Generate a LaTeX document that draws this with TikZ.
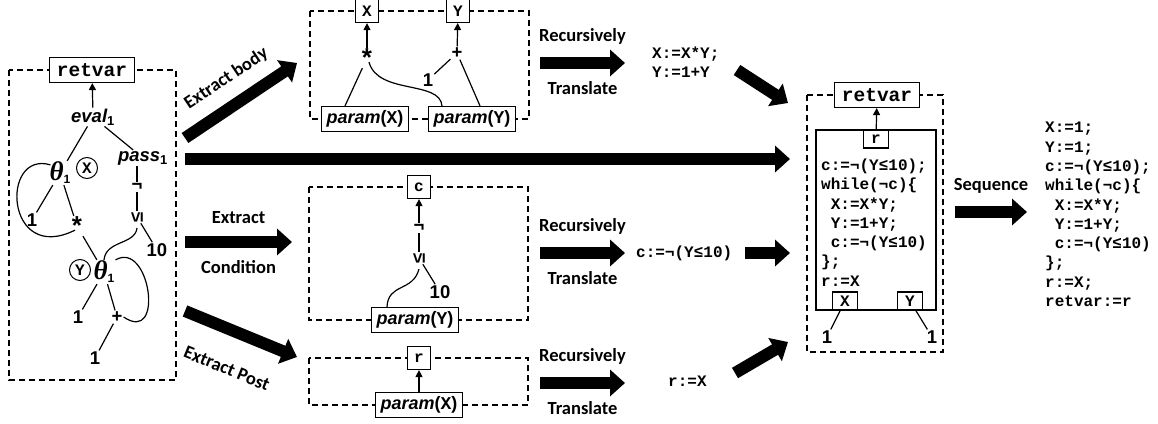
\documentclass[tikz,border=0pt]{standalone}
\usepackage{fontspec}
\setmainfont{Liberation Sans}
\setmonofont{Liberation Mono}
\newfontfamily\calfont{Carlito}
\newfontfamily\grkfont{Liberation Serif}
\usetikzlibrary{arrows.meta}

\newcommand\thetaone{{\grkfont\bfseries\itshape\fontsize{27}{27}\selectfont θ}\raisebox{-3pt}{\fontsize{12}{12}\selectfont\bfseries 1}}

\begin{document}
\begin{tikzpicture}[x=1pt,y=-1pt]
\tikzstyle{lbl}=[font=\fontsize{18.5}{20}\selectfont\bfseries\itshape,inner sep=1pt]
\tikzstyle{num}=[font=\fontsize{18.5}{20}\selectfont\bfseries,inner sep=1pt]
\tikzstyle{star}=[font=\fontsize{26}{26}\selectfont\bfseries,inner sep=1pt]
\tikzstyle{varbox}=[draw,fill=white,line width=1.2pt,font=\fontsize{16}{16}\selectfont\ttfamily\bfseries,minimum width=23pt,minimum height=23pt,inner sep=0pt]
\tikzstyle{retbox}=[varbox,font=\fontsize{19.5}{20}\selectfont\ttfamily\bfseries,minimum width=85pt,minimum height=25pt]
\tikzstyle{parbox}=[draw,fill=white,line width=1.2pt,font=\fontsize{18}{20}\selectfont\bfseries,minimum height=25pt,inner xsep=5pt,inner ysep=0pt]
\tikzstyle{circvar}=[draw,circle,fill=white,line width=1pt,inner sep=0pt,minimum size=21pt,font=\fontsize{16}{16}\selectfont\ttfamily\bfseries]
\tikzstyle{treeline}=[line width=1.2pt]
\tikzstyle{uparrow}=[line width=1.2pt,-{Triangle[length=7pt,width=7pt]}]
\tikzstyle{dashframe}=[line width=1.2pt,dash pattern=on 6pt off 4pt]
\tikzstyle{bigarrow}=[line width=12pt,-{Triangle[length=15pt,width=26pt]}]
\tikzstyle{steplbl}=[font=\calfont\bfseries\fontsize{18.5}{20}\selectfont]
\tikzstyle{code}=[font=\fontsize{16}{19.3}\selectfont\ttfamily\bfseries,align=left,inner sep=0pt]
\useasboundingbox (0,0) rectangle (1158,423);

% left tree
\draw[dashframe] (9,70) rectangle (176,380);
\node[retbox] (retL) at (92,70) {retvar};
\node[lbl] (evalL) at (93,117) {eval\textsubscript{\upshape 1}};
\node[lbl] (passL) at (143,158) {pass\textsubscript{\upshape 1}};
\node[inner sep=1pt] (thA) at (60,173) {\thetaone};
\node[circvar] (cX) at (87,168) {X};
\node[num] (oneA) at (32,220) {1};
\node[star] (starA) at (77,226) {*};
\node[num] (negL) at (137,187) {¬};
\node[num,rotate=90] (leqL) at (137,217) {≤};
\node[num] (tenL) at (157,250) {10};
\node[circvar] (cY) at (80,270) {Y};
\node[inner sep=1pt] (thB) at (104,272) {\thetaone};
\node[num] (oneB) at (78,317) {1};
\node[num] (plusB) at (117,317) {+};
\node[num] (oneC) at (95,358) {1};
\draw[uparrow] (evalL) -- (retL);
\draw[treeline] (evalL) -- (thA);
\draw[treeline] (evalL) -- (passL);
\draw[treeline] (thA) -- (oneA);
\draw[treeline] (thA) -- (starA);
\draw[treeline] ([shift={(2pt,-4pt)}]thA.north west) .. controls (0,150) and (5,265) .. ([shift={(-2pt,6pt)}]starA.south);
\draw[treeline] (negL |- passL.south) -- (negL);
\draw[treeline] (negL) -- (leqL);
\draw[treeline] (leqL) -- (tenL);
\draw[treeline] (starA) -- (thB);
\draw[treeline] ([yshift=-11pt]leqL.center) .. controls (135,245) and (106,240) .. (thB.north);
\draw[treeline] (thB) -- (oneB);
\draw[treeline] (thB) -- (plusB);
\draw[treeline] (plusB) -- (oneC);
\draw[treeline] (thB.north east) .. controls (150,240) and (165,345) .. (plusB.east);

% extract body
\draw[dashframe] (310,11) rectangle (529,119);
\node[varbox] (tX) at (367,11) {X};
\node[varbox] (tY) at (458,11) {Y};
\node[star] (starT) at (367,58) {*};
\node[num] (plusT) at (457,53) {+};
\node[num] (oneT) at (428,80) {1};
\node[parbox] (parX) at (365,119) {\textit{param}(\texttt{X})};
\node[parbox] (parY) at (472,119) {\textit{param}(\texttt{Y})};
\draw[uparrow] (starT) -- (tX);
\draw[uparrow] (plusT) -- (tY);
\draw[treeline] (starT) -- ([xshift=-20pt]parX.north);
\draw[treeline] ([shift={(2pt,6pt)}]starT.south) .. controls (378,95) and (440,80) .. ([xshift=-30pt]parY.north);
\draw[treeline] (plusT) -- ([xshift=8pt]parY.north);
\draw[treeline] (oneT) -- (plusT);

% extract condition
\draw[dashframe] (309,187) rectangle (528,320);
\node[varbox] (cC) at (419,187) {c};
\node[num] (negC) at (419,228) {¬};
\node[num,rotate=90] (leqC) at (419,258) {≤};
\node[num] (tenC) at (440,292) {10};
\node[parbox] (parYc) at (415,320) {\textit{param}(\texttt{Y})};
\draw[uparrow] (negC) -- (cC);
\draw[treeline] (negC) -- (leqC);
\draw[treeline] (leqC) -- (tenC);
\draw[treeline] ([yshift=-11pt]leqC.center) .. controls (413,292) and (388,283) .. ([xshift=-28pt]parYc.north);

% extract post
\draw[dashframe] (309,358) rectangle (528,405);
\node[varbox] (pR) at (419,358) {r};
\node[parbox] (parXp) at (419,405) {\textit{param}(\texttt{X})};
\draw[uparrow] (parXp) -- (pR);

% combined loop
\draw[dashframe] (807,95) rectangle (943,352);
\node[retbox] (retR) at (877,95) {retvar};
\node[draw,line width=1.2pt,minimum width=120pt,minimum height=180pt,inner sep=0pt] (body) at (876,220) {};
\node[varbox,anchor=north,minimum height=18pt,minimum width=25pt] (bR) at (body.north) {r};
\node[varbox,anchor=south,minimum height=18pt,minimum width=25pt] (bX) at ([xshift=-31pt]body.south) {X};
\node[varbox,anchor=south,minimum height=18pt,minimum width=25pt] (bY) at ([xshift=34pt]body.south) {Y};
\node[num] (oneXi) at (827,337) {1};
\node[num] (oneYi) at (932,337) {1};
\draw[uparrow] (bR) -- (retR);
\draw[treeline] (bX) -- (oneXi);
\draw[treeline] (bY) -- (oneYi);
\node[code,anchor=west] (bodycode) at (821,222.5) {c:=¬(Y≤10);\\while(¬c)\{\\~X:=X*Y;\\~Y:=1+Y;\\~c:=¬(Y≤10)\\\};\\r:=X};

% translated pieces
\node[code,anchor=west] (bodyC) at (652,62.5) {X:=X*Y;\\Y:=1+Y};
\node[code,anchor=west] (condC) at (636,253) {c:=¬(Y≤10)};
\node[code,anchor=west] (postC) at (668,381) {r:=X};
\node[code,anchor=west] (seqC) at (1045,214.5) {X:=1;\\Y:=1;\\c:=¬(Y≤10);\\while(¬c)\{\\~X:=X*Y;\\~Y:=1+Y;\\~c:=¬(Y≤10)\\\};\\r:=X;\\retvar:=r};

% thick arrows
\foreach \name/\point in {
	bs/{185,138}, be/{297,63},
	ms/{185,159}, me/{790,159},
	cs/{185,242}, ce/{292,242},
	ps/{185,311}, pe/{297,357},
	rbs/{540,63}, rbe/{625,63},
	rcs/{540,253}, rce/{625,253},
	rps/{540,383}, rpe/{625,383},
	jbs/{737,70}, jbe/{788,103},
	jcs/{745,253}, jce/{790,253},
	jps/{735,373}, jpe/{788,342},
	ss/{955,212}, se/{1027,212}}
	\coordinate (\name) at (\point);
\draw[bigarrow] (bs) -- (be) node[midway,sloped,above=9pt,steplbl] {Extract body};
\draw[bigarrow] (ms) -- (me);
\draw[bigarrow] (cs) -- (ce) node[midway,above=9pt,steplbl] {Extract} node[midway,below=9pt,steplbl] {Condition};
\draw[bigarrow] (ps) -- (pe) node[midway,sloped,below=22pt,steplbl] {Extract Post};
\foreach \s/\e in {rbs/rbe,rcs/rce,rps/rpe}
	\draw[bigarrow] (\s) -- (\e) node[midway,above=9pt,steplbl] {Recursively} node[midway,below=9pt,steplbl] {Translate};
\draw[bigarrow] (jbs) -- (jbe);
\draw[bigarrow] (jcs) -- (jce);
\draw[bigarrow] (jps) -- (jpe);
\draw[bigarrow] (ss) -- (se) node[midway,above=9pt,steplbl] {Sequence};
\end{tikzpicture}
\end{document}
